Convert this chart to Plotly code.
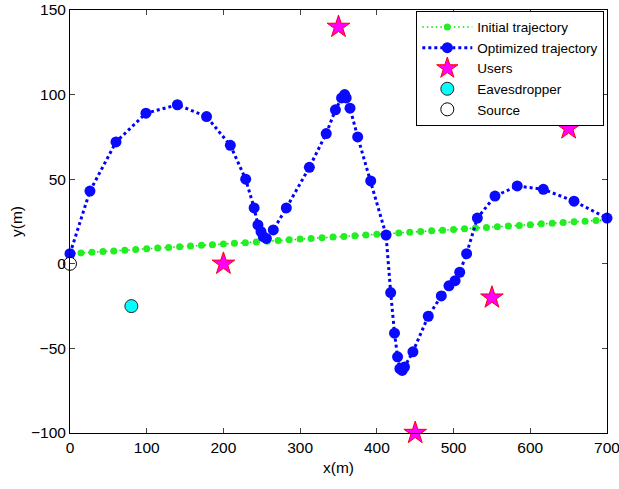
import plotly.graph_objects as go

# Initial trajectory (straight line of waypoints)
init_x = [0.0, 14.3, 28.6, 42.9, 57.1, 71.4, 85.7, 100.0, 114.3, 128.6,
          142.9, 157.1, 171.4, 185.7, 200.0, 214.3, 228.6, 242.9, 257.1, 271.4,
          285.7, 300.0, 314.3, 328.6, 342.9, 357.1, 371.4, 385.7, 400.0, 414.3,
          428.6, 442.9, 457.1, 471.4, 485.7, 500.0, 514.3, 528.6, 542.9, 557.1,
          571.4, 585.7, 600.0, 614.3, 628.6, 642.9, 657.1, 671.4, 685.7, 700.0]
init_y = [6.0, 6.4, 6.8, 7.2, 7.6, 8.0, 8.4, 8.9, 9.3, 9.7,
          10.1, 10.5, 10.9, 11.3, 11.7, 12.1, 12.5, 12.9, 13.3, 13.8,
          14.2, 14.6, 15.0, 15.4, 15.8, 16.2, 16.6, 17.0, 17.4, 17.8,
          18.2, 18.7, 19.1, 19.5, 19.9, 20.3, 20.7, 21.1, 21.5, 21.9,
          22.3, 22.7, 23.1, 23.6, 24.0, 24.4, 24.8, 25.2, 25.6, 26.0]

# Optimized trajectory
opt_x = [0, 26, 60, 99, 140, 178, 209, 229, 240, 245, 249, 252, 256, 265,
         282, 312, 334, 346, 354, 358, 360, 365, 375, 392, 412, 418, 423,
         427, 430, 433, 436, 447, 467, 484, 494, 502, 508, 517, 531, 554,
         583, 617, 657, 700]
opt_y = [6, 43, 72, 89, 94, 87, 70, 50, 33, 23, 19, 16, 15, 20,
         33, 57, 77, 91, 98, 100, 98, 92, 75, 49, 17, -17, -41,
         -55, -62, -63, -61, -52, -31, -19, -13, -10, -5, 6, 27, 40,
         46, 44, 37, 27]

users_x = [350, 650, 200, 550, 450]
users_y = [140, 80, 0, -20, -100]
eve_x = [80]
eve_y = [-25]
src_x = [0]
src_y = [0]

x_ticks = [0, 100, 200, 300, 400, 500, 600, 700]
y_ticks = [-100, -50, 0, 50, 100, 150]

fig = go.Figure()
fig.add_trace(go.Scatter(x=init_x, y=init_y, mode="lines+markers",
                         name="Initial trajectory", cliponaxis=False,
                         line=dict(color="#00e000", width=1.5, dash="1.5px,3px"),
                         marker=dict(color="#22ee22", size=7)))
fig.add_trace(go.Scatter(x=opt_x, y=opt_y, mode="lines+markers",
                         name="Optimized trajectory", cliponaxis=False,
                         line=dict(color="#0000ff", width=3, dash="dot"),
                         marker=dict(color="#0a0aff", size=11)))
fig.add_trace(go.Scatter(x=users_x, y=users_y, mode="markers", name="Users",
                         cliponaxis=False,
                         marker=dict(symbol="star", size=17, color="#ff00ff",
                                     line=dict(color="#ff0000", width=1))))
fig.add_trace(go.Scatter(x=eve_x, y=eve_y, mode="markers", name="Eavesdropper",
                         cliponaxis=False,
                         marker=dict(symbol="circle", size=13, color="#00ffff",
                                     line=dict(color="#222222", width=1))))
fig.add_trace(go.Scatter(x=src_x, y=src_y, mode="markers", name="Source",
                         cliponaxis=False,
                         marker=dict(symbol="circle", size=13, color="#ffffff",
                                     line=dict(color="#000000", width=1))))

font = "Liberation Sans, Arial, sans-serif"
fig.update_layout(
    width=619, height=489,
    margin=dict(l=70, r=12, t=10, b=56, autoexpand=False),
    paper_bgcolor="white", plot_bgcolor="white",
    font=dict(family=font, size=15.5, color="black"),
    showlegend=True,
    legend=dict(x=0.995, y=0.998, xanchor="right", yanchor="top",
                bordercolor="black", borderwidth=1, bgcolor="white",
                font=dict(family=font, size=13.5), tracegroupgap=0,
                itemwidth=50),
    xaxis=dict(range=[0, 700], tickvals=x_ticks, ticks="inside", ticklen=5,
               showline=True, linecolor="black", linewidth=1, mirror="ticks",
               showgrid=False, zeroline=False, automargin=False,
               ticklabeloverflow="allow",
               title=dict(text="x(m)", font=dict(size=15.5), standoff=7)),
    yaxis=dict(range=[-100, 150], tickvals=y_ticks, ticks="inside", ticklen=5,
               showline=True, linecolor="black", linewidth=1, mirror="ticks",
               showgrid=False, zeroline=False, automargin=False,
               ticklabeloverflow="allow",
               title=dict(text="y(m)", font=dict(size=15.5), standoff=4)),
)
fig.write_html("out.html", config={"displayModeBar": False},
               post_script="document.body.style.margin='0';document.body.style.overflow='hidden';")
